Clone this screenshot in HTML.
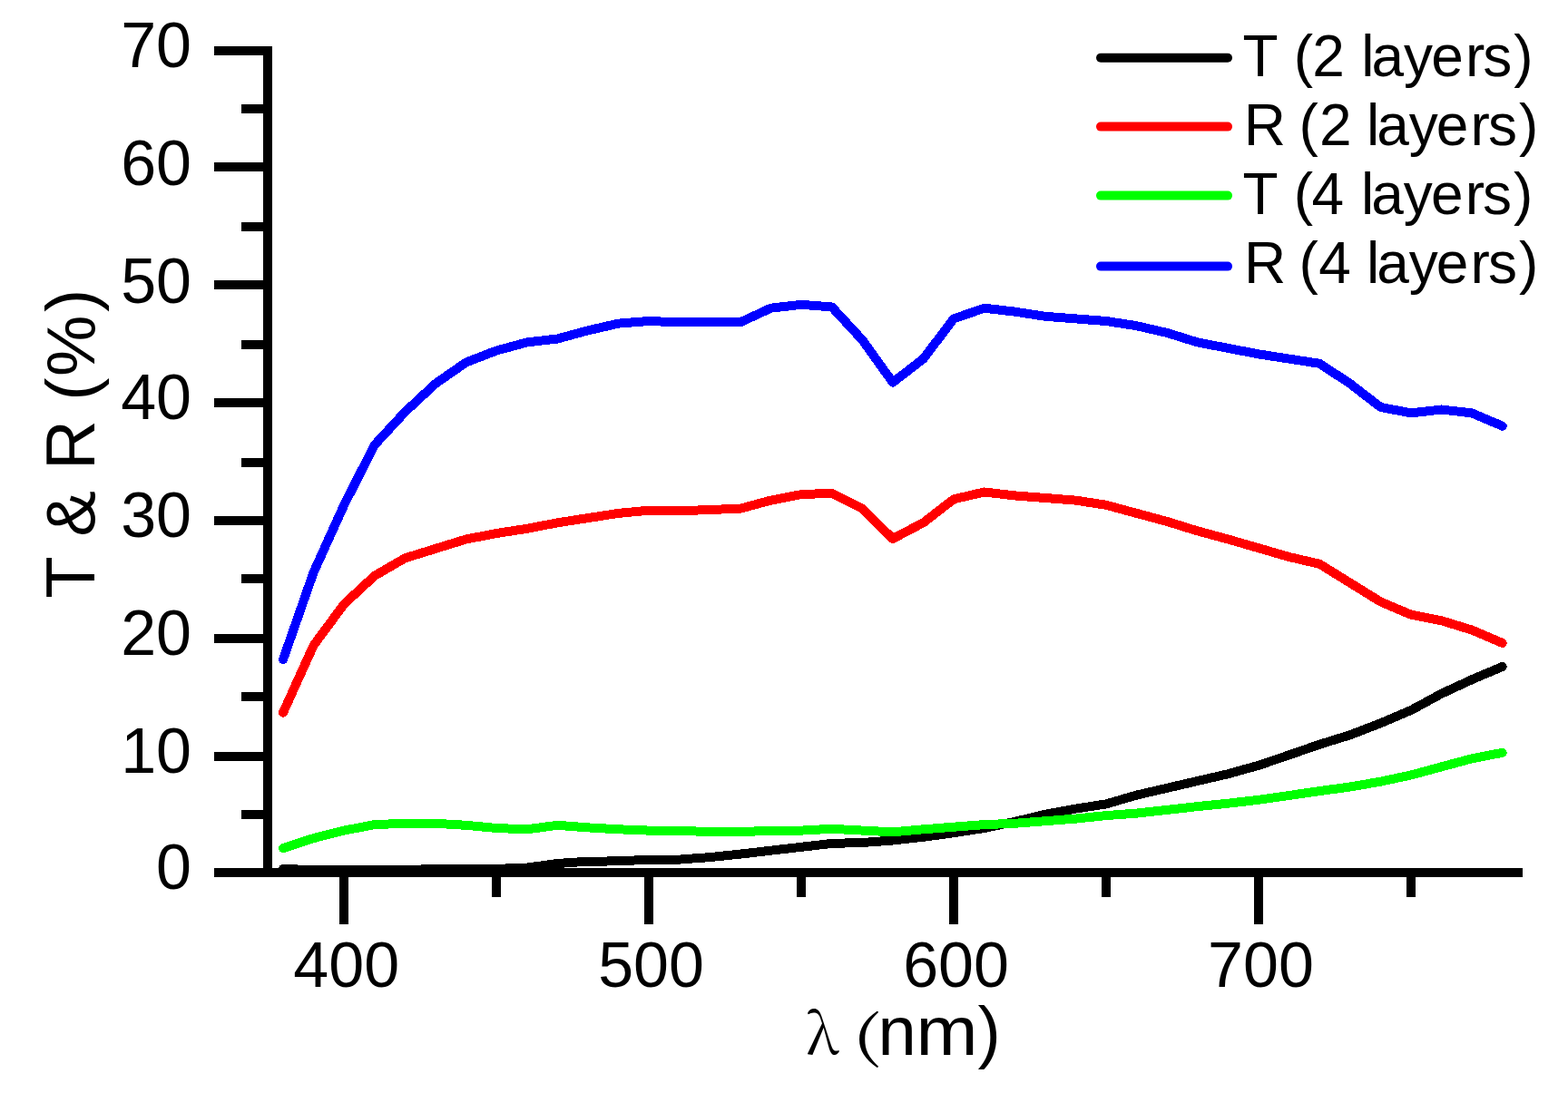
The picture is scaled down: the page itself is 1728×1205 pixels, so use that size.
<!DOCTYPE html>
<html><head><meta charset="utf-8"><title>T &amp; R spectra</title>
<style>
html,body{margin:0;padding:0;background:#fff;}
body{width:1728px;height:1205px;overflow:hidden;}
svg{display:block;}
text{font-family:"Liberation Sans",Arial,sans-serif;fill:#000;}
</style></head>
<body>
<svg width="1728" height="1205" viewBox="0 0 1728 1205">
<rect x="0" y="0" width="1728" height="1205" fill="#fff"/>
<g fill="none" stroke-width="10" stroke-linejoin="round" stroke-linecap="round" shape-rendering="crispEdges">
<path d="M312.0,957.9 L345.6,959.2 L379.2,959.4 L412.8,959.4 L446.4,959.2 L480.0,957.9 L513.6,957.9 L547.2,957.9 L580.8,956.6 L614.4,952.0 L647.9,949.7 L681.5,949.4 L715.1,947.7 L748.7,947.6 L782.3,945.1 L815.9,941.6 L849.5,937.7 L883.1,933.8 L916.7,929.9 L950.3,929.0 L983.9,926.5 L1017.5,922.8 L1051.1,918.2 L1084.7,913.0 L1118.2,905.9 L1151.8,897.8 L1185.4,891.6 L1219.0,886.4 L1252.6,876.6 L1286.2,868.8 L1319.8,861.0 L1353.4,853.2 L1387.0,843.8 L1420.6,832.4 L1454.2,820.7 L1487.8,810.3 L1521.4,797.3 L1555.0,783.0 L1588.5,764.8 L1622.1,749.2 L1655.7,734.9" stroke="#000000"/>
<path d="M312.0,785.6 L345.6,711.5 L379.2,666.0 L412.8,634.8 L446.4,615.3 L480.0,604.9 L513.6,594.5 L547.2,588.0 L580.8,582.8 L614.4,576.3 L647.9,571.1 L681.5,565.9 L715.1,562.7 L748.7,563.3 L782.3,562.0 L815.9,560.7 L849.5,551.6 L883.1,545.1 L916.7,543.8 L950.3,560.7 L983.9,593.9 L1017.5,576.3 L1051.1,550.3 L1084.7,542.5 L1118.2,546.4 L1151.8,549.0 L1185.4,551.6 L1219.0,556.8 L1252.6,565.9 L1286.2,575.0 L1319.8,585.4 L1353.4,594.5 L1387.0,604.2 L1420.6,614.0 L1454.2,621.8 L1487.8,642.6 L1521.4,663.4 L1555.0,677.7 L1588.5,684.2 L1622.1,694.6 L1655.7,708.9" stroke="#ff0000"/>
<path d="M312.0,935.1 L345.6,924.1 L379.2,915.6 L412.8,909.1 L446.4,907.8 L480.0,907.8 L513.6,909.8 L547.2,913.0 L580.8,914.3 L614.4,909.8 L647.9,912.4 L681.5,914.3 L715.1,915.6 L748.7,915.6 L782.3,917.3 L815.9,917.3 L849.5,915.6 L883.1,915.6 L916.7,913.8 L950.3,915.6 L983.9,917.3 L1017.5,914.3 L1051.1,911.7 L1084.7,909.1 L1118.2,907.8 L1151.8,905.2 L1185.4,902.6 L1219.0,899.1 L1252.6,896.6 L1286.2,892.9 L1319.8,889.1 L1353.4,885.7 L1387.0,881.8 L1420.6,877.0 L1454.2,872.1 L1487.8,867.5 L1521.4,861.7 L1555.0,854.5 L1588.5,845.4 L1622.1,836.3 L1655.7,829.8" stroke="#00ff00"/>
<path d="M312.0,727.1 L345.6,630.9 L379.2,556.8 L412.8,490.5 L446.4,454.1 L480.0,422.9 L513.6,399.5 L547.2,386.5 L580.8,377.4 L614.4,373.5 L647.9,364.4 L681.5,356.6 L715.1,354.0 L748.7,355.3 L782.3,355.3 L815.9,355.3 L849.5,339.7 L883.1,335.8 L916.7,338.4 L950.3,374.8 L983.9,421.6 L1017.5,395.6 L1051.1,351.4 L1084.7,339.7 L1118.2,343.6 L1151.8,348.8 L1185.4,351.4 L1219.0,354.0 L1252.6,359.2 L1286.2,367.0 L1319.8,377.4 L1353.4,383.9 L1387.0,390.4 L1420.6,395.6 L1454.2,400.8 L1487.8,422.9 L1521.4,448.9 L1555.0,455.4 L1588.5,451.5 L1622.1,455.4 L1655.7,469.7" stroke="#0000ff"/>
</g>
<g fill="#000" shape-rendering="crispEdges">
<rect x="290" y="51" width="10" height="916"/>
<rect x="236" y="957" width="1442" height="10"/>
<rect x="236" y="51" width="54" height="10"/>
<rect x="236" y="179" width="54" height="10"/>
<rect x="236" y="309" width="54" height="10"/>
<rect x="236" y="439" width="54" height="10"/>
<rect x="236" y="569" width="54" height="10"/>
<rect x="236" y="699" width="54" height="10"/>
<rect x="236" y="829" width="54" height="10"/>
<rect x="266" y="115" width="24" height="10"/>
<rect x="266" y="245" width="24" height="10"/>
<rect x="266" y="375" width="24" height="10"/>
<rect x="266" y="505" width="24" height="10"/>
<rect x="266" y="633" width="24" height="10"/>
<rect x="266" y="763" width="24" height="10"/>
<rect x="266" y="893" width="24" height="10"/>
<rect x="374" y="967" width="10" height="52"/>
<rect x="710" y="967" width="10" height="52"/>
<rect x="1046" y="967" width="10" height="52"/>
<rect x="1382" y="967" width="10" height="52"/>
<rect x="542" y="967" width="10" height="22"/>
<rect x="878" y="967" width="10" height="22"/>
<rect x="1214" y="967" width="10" height="22"/>
<rect x="1550" y="967" width="10" height="22"/>
</g>
<g font-size="70">
<text x="211" y="74.2" text-anchor="end">70</text>
<text x="211" y="204.2" text-anchor="end">60</text>
<text x="211" y="334.2" text-anchor="end">50</text>
<text x="211" y="462.1" text-anchor="end">40</text>
<text x="211" y="592.1" text-anchor="end">30</text>
<text x="211" y="722.1" text-anchor="end">20</text>
<text x="211" y="852.2" text-anchor="end">10</text>
<text x="211" y="980.0" text-anchor="end">0</text>
</g>
<g font-size="70">
<text x="381.7" y="1088" text-anchor="middle">400</text>
<text x="717.6" y="1088" text-anchor="middle">500</text>
<text x="1053.6" y="1088" text-anchor="middle">600</text>
<text x="1389.5" y="1088" text-anchor="middle">700</text>
</g>
<text transform="translate(104.4,657) rotate(-90)" font-size="76" dx="-2.75 0 1.8 0 2.05 0 0.2 1.35 3.4">T &amp; R (%)</text>
<text x="888.4" y="1162" font-size="62" style="font-family:'Noto Serif CJK SC',serif">λ</text>
<text transform="translate(938.9,1163.5) scale(1.41,0.97)" font-size="62" style="font-family:'Noto Serif CJK SC',serif">(</text>
<text x="967.5" y="1162.8" font-size="76">n</text>
<text transform="translate(1009.4,1162.8) scale(1.075,1)" font-size="76">m</text>
<text x="1077.6" y="1162.8" font-size="76">)</text>
<line x1="1213" y1="63.8" x2="1353" y2="63.8" stroke="#000000" stroke-width="10" stroke-linecap="round"/>
<text x="1369" y="84.2" font-size="64" dx="0.5 0 0.45 -0.7 0 0.55 -2.9 -0.1 -1.85 2.15 -1.95 2.05">T (2 layers)</text>
<line x1="1213" y1="139.6" x2="1353" y2="139.6" stroke="#ff0000" stroke-width="10" stroke-linecap="round"/>
<text x="1369" y="160.2" font-size="64" dx="1.7 0 -3.1 1.05 0 -1.45 -2.9 -0.1 -1.85 2.15 -1.95 2.05">R (2 layers)</text>
<line x1="1213" y1="215.6" x2="1353" y2="215.6" stroke="#00ff00" stroke-width="10" stroke-linecap="round"/>
<text x="1369" y="236.4" font-size="64" dx="0.5 0 0.45 -1.4 0 1.0 -2.9 -0.1 -1.85 2.15 -1.95 2.05">T (4 layers)</text>
<line x1="1213" y1="293.6" x2="1353" y2="293.6" stroke="#0000ff" stroke-width="10" stroke-linecap="round"/>
<text x="1369" y="312.4" font-size="64" dx="1.95 0 -3.35 0.3 0 -0.7 -2.9 -0.1 -1.85 2.15 -1.95 2.05">R (4 layers)</text>
</svg>
</body></html>
